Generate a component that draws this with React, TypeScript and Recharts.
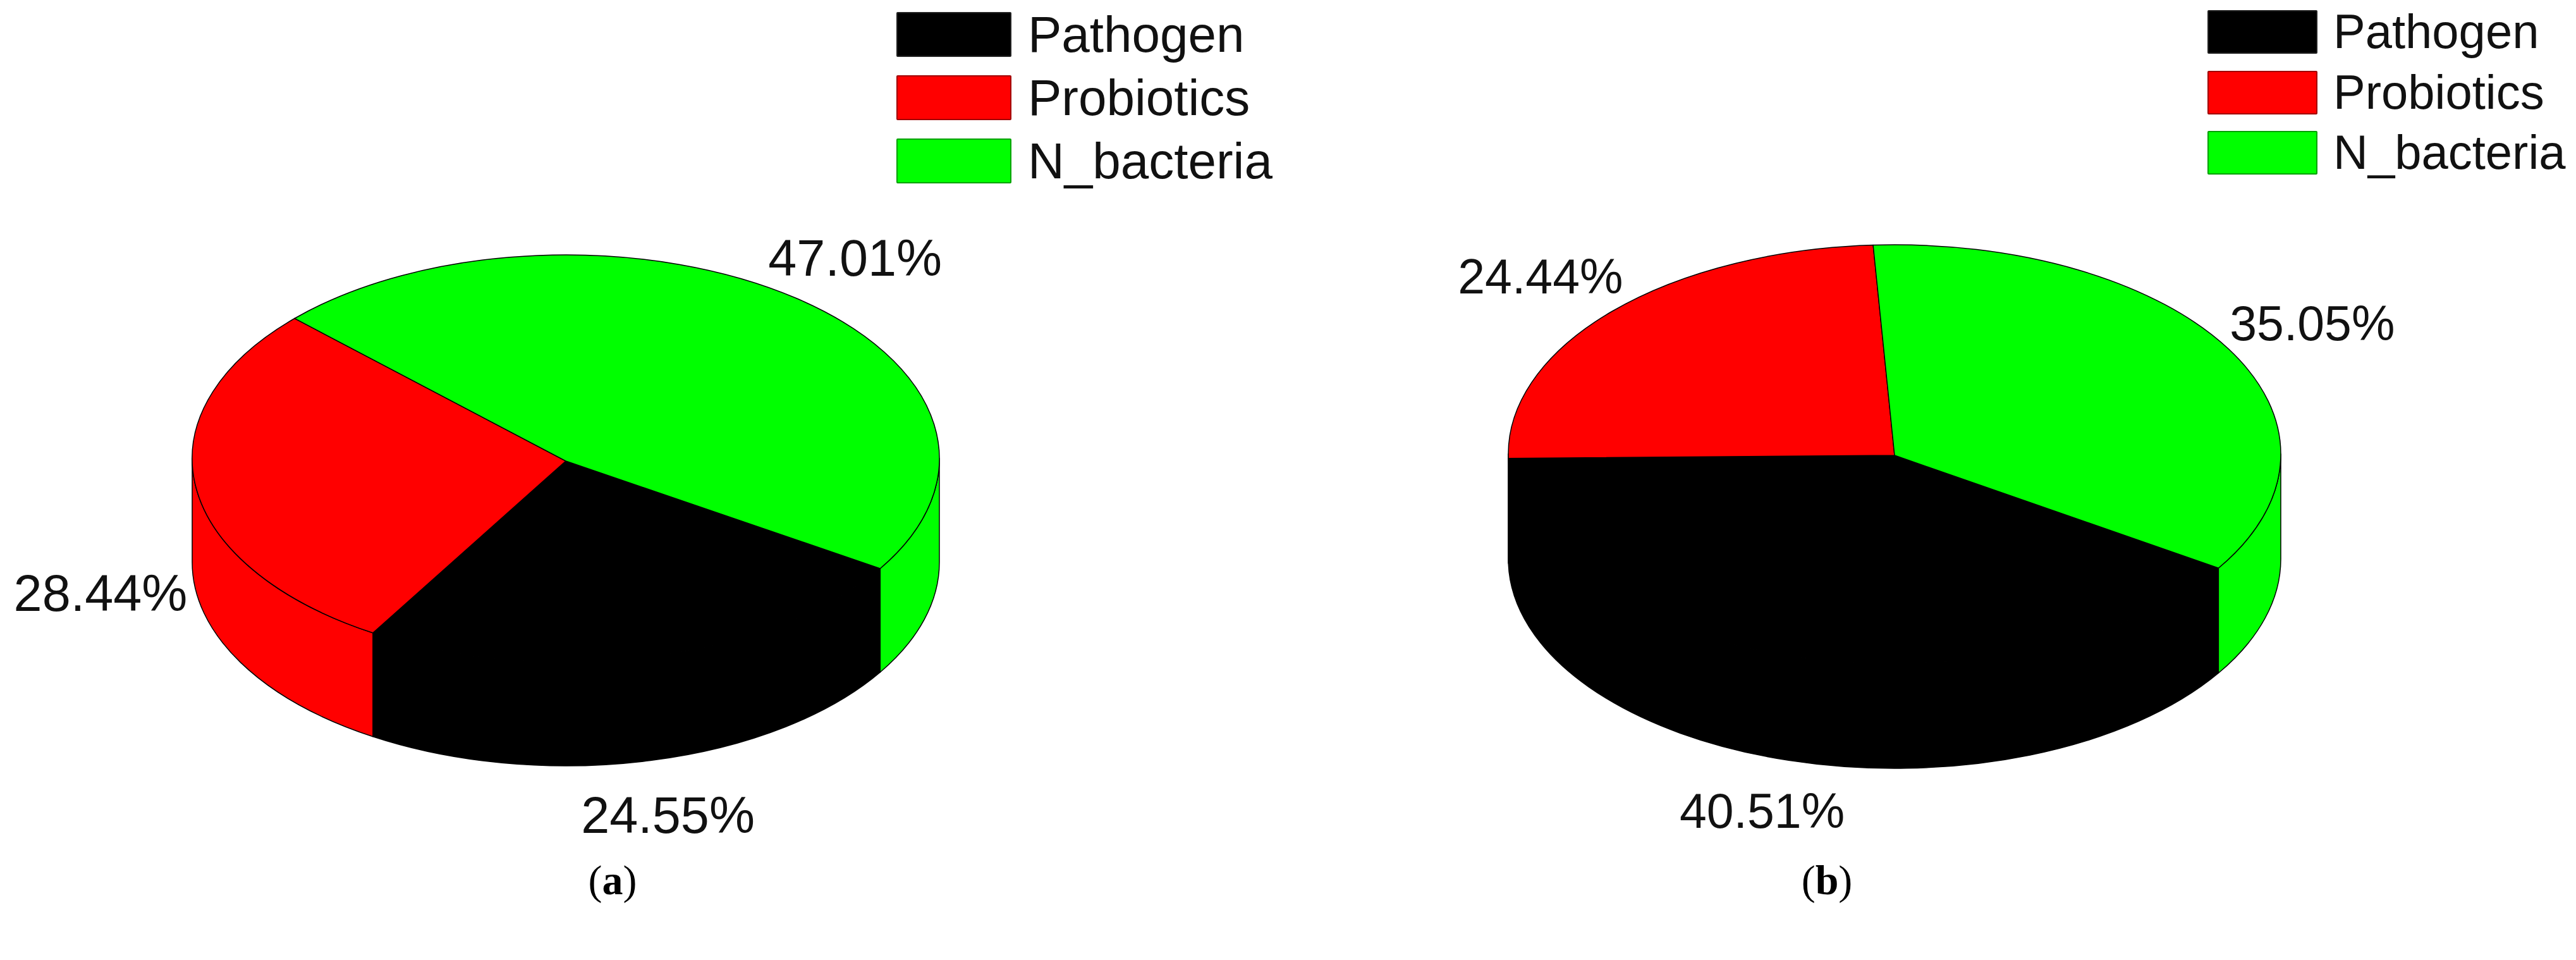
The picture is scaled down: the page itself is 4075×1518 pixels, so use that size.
import React from "react";
import { PieChart, Pie, Legend } from "recharts";

const categories = ["Pathogen", "Probiotics", "N_bacteria"];
const sliceColors = ["#000000", "#ff0000", "#00ff00"];
const swatchEdges = ["#222222", "#a00000", "#00a000"];
const valuesA = [24.55, 28.44, 47.01];
const valuesB = [40.51, 24.44, 35.05];

const rad = Math.PI / 180;

type Geo = {
  left: number; width: number; cx: number; cy: number; rx: number; ry: number; depth: number; apexDy: number;
  start: number; labelSize: number; labelNudge: Record<string, [number, number]>;
  legend: { left: number; top: number; swatchW: number; swatchH: number; step: number; textGap: number; font: number; baseline: number };
};

function Slice3D(props: any, geo: Geo) {
  const { cx, cy, startAngle, endAngle, fill } = props;
  const { rx, ry, depth } = geo;
  const pt = (a: number, dy = 0) => `${cx + rx * Math.cos(a * rad)} ${cy - ry * Math.sin(a * rad) + dy}`;
  const lo = Math.min(startAngle, endAngle);
  const hi = Math.max(startAngle, endAngle);
  const walls: string[] = [];
  for (let k = 0; k < 3; k++) {
    const a = Math.max(lo, 180 + 360 * k);
    const b = Math.min(hi, 360 + 360 * k);
    if (b > a) {
      const large = b - a > 180 ? 1 : 0;
      walls.push(
        `M ${pt(a)} A ${rx} ${ry} 0 ${large} 0 ${pt(b)} L ${pt(b, depth)} A ${rx} ${ry} 0 ${large} 1 ${pt(a, depth)} Z`
      );
    }
  }
  const largeTop = hi - lo > 180 ? 1 : 0;
  const top = `M ${cx} ${cy + geo.apexDy} L ${pt(lo)} A ${rx} ${ry} 0 ${largeTop} 0 ${pt(hi)} Z`;
  return (
    <g>
      {walls.map((d, i) => (
        <path key={i} d={d} fill={fill} stroke="#000000" strokeWidth={1.5} strokeLinejoin="round" />
      ))}
      <path d={top} fill={fill} stroke="#000000" strokeWidth={1.5} strokeLinejoin="round" />
    </g>
  );
}

function Panel({ values, geo, caption, captionX }: { values: number[]; geo: Geo; caption: string; captionX: number }) {
  const data = categories.map((name, i) => ({ name, value: values[i], fill: sliceColors[i] }));
  const lg = geo.legend;
  const renderLabel = (p: any) => {
    const a = ((p.midAngle % 360) + 360) % 360;
    const s = Math.sin(a * rad);
    const [nx, ny] = geo.labelNudge[p.name] || [0, 0];
    const x = p.cx + geo.rx * 1.25 * Math.cos(a * rad) + nx;
    const y = p.cy - geo.ry * 1.25 * s + (s < 0 ? geo.depth : 0) + ny;
    return (
      <text x={x} y={y} textAnchor="middle" dominantBaseline="central" fontFamily="'Liberation Sans', Arial, sans-serif" fontSize={geo.labelSize} fill="#111111">
        {`${p.value.toFixed(2)}%`}
      </text>
    );
  };
  const legendContent = (p: any) => (
    <div style={{ position: "relative", width: 640, height: lg.step * 3 }}>
      {(p.payload || []).map((it: any, i: number) => (
        <React.Fragment key={it.value}>
          <div
            style={{
              position: "absolute", left: 0, top: i * lg.step, width: lg.swatchW, height: lg.swatchH,
              background: it.color, border: `2px solid ${swatchEdges[i]}`, boxSizing: "border-box", borderRadius: 2,
            }}
          />
          <svg style={{ position: "absolute", left: lg.swatchW + lg.textGap, top: i * lg.step - 10, overflow: "visible" }} width={480} height={lg.swatchH + 30}>
            <text x={0} y={lg.baseline + 10} fontFamily="'Liberation Sans', Arial, sans-serif" fontSize={lg.font} fill="#111111">
              {it.value}
            </text>
          </svg>
        </React.Fragment>
      ))}
    </div>
  );
  return (
    <div style={{ position: "absolute", left: geo.left, top: 0, width: geo.width, height: 1518 }}>
      <PieChart width={geo.width} height={1518} margin={{ top: 0, right: 0, bottom: 0, left: 0 }}>
        <Pie
          data={data}
          dataKey="value"
          nameKey="name"
          cx={geo.cx}
          cy={geo.cy}
          innerRadius={0}
          outerRadius={geo.rx}
          startAngle={geo.start + 360}
          endAngle={geo.start}
          paddingAngle={0}
          isAnimationActive={false}
          labelLine={false}
          label={renderLabel}
          shape={(p: any) => Slice3D(p, geo)}
        />
        <Legend
          content={legendContent}
          itemSorter={null}
          wrapperStyle={{ left: lg.left, top: lg.top, width: 640, bottom: "auto" }}
        />
      </PieChart>
      <div
        style={{
          position: "absolute", left: captionX - 100, width: 200, top: 1350, textAlign: "center",
          fontFamily: "'Liberation Serif', 'Times New Roman', serif", fontSize: 66, lineHeight: "84px", color: "#000",
        }}
      >
        (<b>{caption}</b>)
      </div>
    </div>
  );
}

const geoA: Geo = {
  left: 0, width: 2100, cx: 895, cy: 725, rx: 591, ry: 322, depth: 164, apexDy: 4, start: 327.3, labelSize: 81,
  labelNudge: { Pathogen: [-6, 8], Probiotics: [-4, -5], N_bacteria: [2, 0] },
  legend: { left: 1418, top: 19, swatchW: 182, swatchH: 71, step: 100, textGap: 26, font: 80, baseline: 63 },
};
const geoB: Geo = {
  left: 2100, width: 1975, cx: 897, cy: 718, rx: 611, ry: 331, depth: 166, apexDy: 2, start: 327, labelSize: 77,
  labelNudge: { Pathogen: [0, 0], Probiotics: [0, 0], N_bacteria: [0, 0] },
  legend: { left: 1392, top: 16, swatchW: 174, swatchH: 69, step: 95.5, textGap: 25, font: 76, baseline: 60 },
};

export default function App() {
  return (
    <div style={{ position: "absolute", left: 0, top: 0, width: 4075, height: 1518, background: "#fff", overflow: "hidden" }}>
      <Panel values={valuesA} geo={geoA} caption="a" captionX={969} />
      <Panel values={valuesB} geo={geoB} caption="b" captionX={790} />
    </div>
  );
}
